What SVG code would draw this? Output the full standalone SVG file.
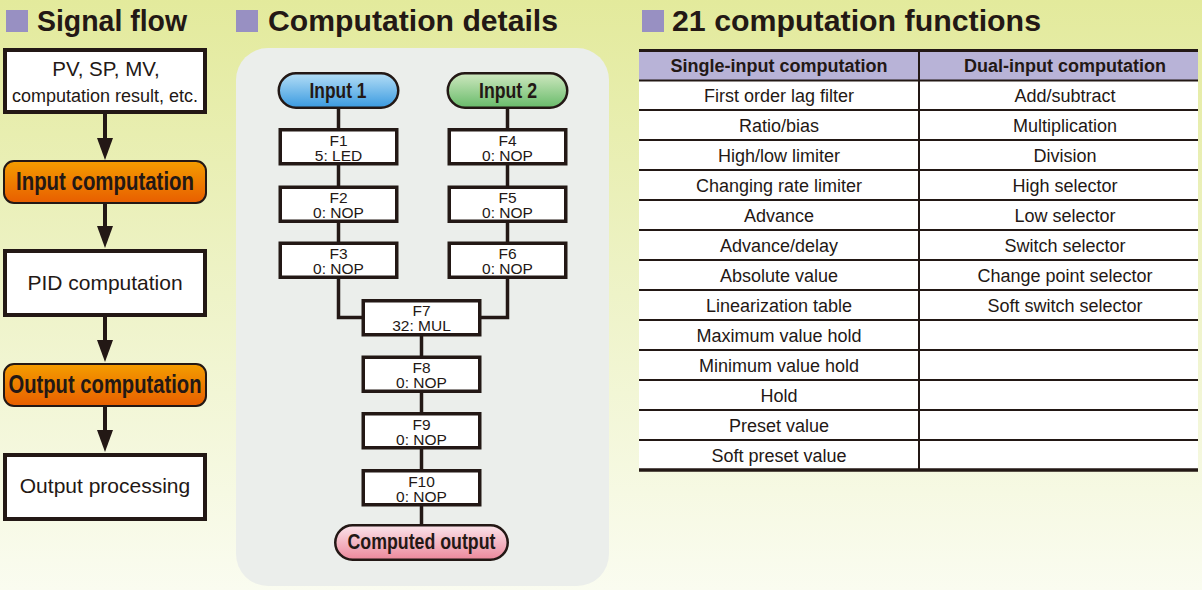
<svg xmlns="http://www.w3.org/2000/svg" width="1202" height="590" viewBox="0 0 1202 590">
<defs>
<linearGradient id="bg" x1="0" y1="0" x2="0" y2="1">
<stop offset="0" stop-color="#e3ea9c"/>
<stop offset="0.5" stop-color="#eef3c8"/>
<stop offset="1" stop-color="#fafcf0"/>
</linearGradient>
<linearGradient id="orange" x1="0" y1="0" x2="0" y2="1">
<stop offset="0" stop-color="#f49d00"/>
<stop offset="1" stop-color="#e85e00"/>
</linearGradient>
<linearGradient id="blue" x1="0" y1="0" x2="0" y2="1">
<stop offset="0" stop-color="#b4def6"/>
<stop offset="1" stop-color="#3a9ae0"/>
</linearGradient>
<linearGradient id="green" x1="0" y1="0" x2="0" y2="1">
<stop offset="0" stop-color="#cfe8c0"/>
<stop offset="1" stop-color="#68bb6a"/>
</linearGradient>
<linearGradient id="pink" x1="0" y1="0" x2="0" y2="1">
<stop offset="0" stop-color="#fbe4eb"/>
<stop offset="1" stop-color="#ec889b"/>
</linearGradient>
<marker id="arrow" markerUnits="userSpaceOnUse" markerWidth="22" markerHeight="16" refX="2" refY="8" orient="auto">
<path d="M0,0 L22,8 L0,16 Z" fill="#231815"/>
</marker>
<style>
.t{font-family:"Liberation Sans",Arial,sans-serif;fill:#231815}
.title{font-family:"Liberation Sans",Arial,sans-serif;font-weight:bold;font-size:29px;fill:#231815}
.sq{fill:#9890c2}
.box{fill:#fff;stroke:#231815;stroke-width:4}
.obox{fill:url(#orange);stroke:#231815;stroke-width:2}
.cond{font-family:"Liberation Sans Narrow","Liberation Sans","DejaVu Sans Condensed",sans-serif;font-weight:bold;fill:#231815}
.fbox{fill:#fff;stroke:#231815;stroke-width:3.5}
.ft{font-family:"Liberation Sans",Arial,sans-serif;font-size:15.5px;fill:#231815;text-anchor:middle}
.pill{stroke:#231815;stroke-width:2.5}
.conn{fill:none;stroke:#231815;stroke-width:3.5}
.arr{fill:none;stroke:#231815;stroke-width:4}
.th{font-family:"Liberation Sans",Arial,sans-serif;font-weight:bold;font-size:18px;fill:#231815;text-anchor:middle}
.td{font-family:"Liberation Sans",Arial,sans-serif;font-size:18px;fill:#231815;text-anchor:middle}
.rl{stroke:#231815;stroke-width:2}
</style>
</defs>

<rect x="0" y="0" width="1202" height="590" fill="url(#bg)"/>

<!-- Titles -->
<g id="title-signal-flow">
<rect class="sq" x="6" y="10" width="22" height="22"/>
<text class="title" x="37" y="31" textLength="150" lengthAdjust="spacingAndGlyphs">Signal flow</text>
</g>
<g id="title-computation-details">
<rect class="sq" x="236" y="10" width="22" height="22"/>
<text class="title" x="268" y="31" textLength="290" lengthAdjust="spacingAndGlyphs">Computation details</text>
</g>
<g id="title-functions">
<rect class="sq" x="642" y="10" width="22" height="22"/>
<text class="title" x="672" y="31" textLength="369" lengthAdjust="spacingAndGlyphs">21 computation functions</text>
</g>

<!-- Signal flow nodes -->
<g id="sf-source">
<rect class="box" x="5" y="50" width="200" height="62"/>
<text class="t" x="106" y="76" font-size="20.5" text-anchor="middle">PV, SP, MV,</text>
<text class="t" x="105" y="102" font-size="18" text-anchor="middle">computation result, etc.</text>
</g>
<g id="sf-input-computation">
<rect class="obox" x="4" y="161" width="202" height="42" rx="10"/>
<text class="cond" x="105" y="190" font-size="25" text-anchor="middle" textLength="178" lengthAdjust="spacingAndGlyphs">Input computation</text>
</g>
<g id="sf-pid">
<rect class="box" x="5" y="251" width="200" height="64"/>
<text class="t" x="105" y="290" font-size="21" text-anchor="middle">PID computation</text>
</g>
<g id="sf-output-computation">
<rect class="obox" x="4" y="364" width="202" height="42" rx="10"/>
<text class="cond" x="105" y="393" font-size="25" text-anchor="middle" textLength="193" lengthAdjust="spacingAndGlyphs">Output computation</text>
</g>
<g id="sf-output-processing">
<rect class="box" x="5" y="455" width="200" height="64"/>
<text class="t" x="105" y="493" font-size="21" text-anchor="middle">Output processing</text>
</g>

<!-- Computation details panel -->
<rect id="panel" x="236" y="48" width="373" height="538" rx="32" fill="#ebeeeb"/>

<!-- Connectors -->
<g id="connectors">
<path class="arr" d="M105,114 V140" marker-end="url(#arrow)"/>
<path class="arr" d="M105,204 V228" marker-end="url(#arrow)"/>
<path class="arr" d="M105,317 V342" marker-end="url(#arrow)"/>
<path class="arr" d="M105,407 V432" marker-end="url(#arrow)"/>

<path class="conn" d="M338.5,108 V129"/>
<path class="conn" d="M338.5,165 V186"/>
<path class="conn" d="M338.5,222 V242"/>
<path class="conn" d="M338.5,278 V317.5 H363"/>
<path class="conn" d="M507.5,108 V129"/>
<path class="conn" d="M507.5,165 V186"/>
<path class="conn" d="M507.5,222 V242"/>
<path class="conn" d="M507.5,278 V317.5 H480"/>
<path class="conn" d="M421.5,336 V356"/>
<path class="conn" d="M421.5,392 V413"/>
<path class="conn" d="M421.5,449 V470"/>
<path class="conn" d="M421.5,506 V525"/>
</g>

<!-- Computation detail nodes -->
<g id="input1">
<rect class="pill" x="278.75" y="73.25" width="119.5" height="34.5" rx="17.25" fill="url(#blue)"/>
<text class="cond" x="338" y="98" font-size="22" text-anchor="middle" textLength="57" lengthAdjust="spacingAndGlyphs">Input 1</text>
</g>
<g id="input2">
<rect class="pill" x="447.75" y="73.25" width="119.5" height="34.5" rx="17.25" fill="url(#green)"/>
<text class="cond" x="508" y="98" font-size="22" text-anchor="middle" textLength="58" lengthAdjust="spacingAndGlyphs">Input 2</text>
</g>
<g id="f1">
<rect class="fbox" x="280.25" y="129.75" width="116.5" height="34"/>
<text class="ft" x="338.5" y="145.5">F1</text>
<text class="ft" x="338.5" y="160.5">5: LED</text>
</g>
<g id="f2">
<rect class="fbox" x="280.25" y="187.25" width="116.5" height="34"/>
<text class="ft" x="338.5" y="203">F2</text>
<text class="ft" x="338.5" y="218">0: NOP</text>
</g>
<g id="f3">
<rect class="fbox" x="280.25" y="243.25" width="116.5" height="34"/>
<text class="ft" x="338.5" y="259">F3</text>
<text class="ft" x="338.5" y="274">0: NOP</text>
</g>
<g id="f4">
<rect class="fbox" x="449.25" y="129.75" width="116.5" height="34"/>
<text class="ft" x="507.5" y="145.5">F4</text>
<text class="ft" x="507.5" y="160.5">0: NOP</text>
</g>
<g id="f5">
<rect class="fbox" x="449.25" y="187.25" width="116.5" height="34"/>
<text class="ft" x="507.5" y="203">F5</text>
<text class="ft" x="507.5" y="218">0: NOP</text>
</g>
<g id="f6">
<rect class="fbox" x="449.25" y="243.25" width="116.5" height="34"/>
<text class="ft" x="507.5" y="259">F6</text>
<text class="ft" x="507.5" y="274">0: NOP</text>
</g>
<g id="f7">
<rect class="fbox" x="363.25" y="300.75" width="116.5" height="34"/>
<text class="ft" x="421.5" y="316">F7</text>
<text class="ft" x="421.5" y="331">32: MUL</text>
</g>
<g id="f8">
<rect class="fbox" x="363.25" y="357.25" width="116.5" height="34"/>
<text class="ft" x="421.5" y="373">F8</text>
<text class="ft" x="421.5" y="388">0: NOP</text>
</g>
<g id="f9">
<rect class="fbox" x="363.25" y="413.75" width="116.5" height="34"/>
<text class="ft" x="421.5" y="429.5">F9</text>
<text class="ft" x="421.5" y="444.5">0: NOP</text>
</g>
<g id="f10">
<rect class="fbox" x="363.25" y="470.75" width="116.5" height="34"/>
<text class="ft" x="421.5" y="486.5">F10</text>
<text class="ft" x="421.5" y="501.5">0: NOP</text>
</g>
<g id="computed-output">
<rect class="pill" x="335.25" y="525.25" width="172.5" height="34.5" rx="17.25" fill="url(#pink)"/>
<text class="cond" x="421.5" y="549" font-size="22" text-anchor="middle" textLength="148" lengthAdjust="spacingAndGlyphs">Computed output</text>
</g>

<!-- Table -->
<g id="table">
<rect x="639" y="50" width="559" height="420" fill="#fff"/>
<rect x="639" y="50" width="559" height="30" fill="#b8b3d7"/>
<line x1="639" y1="50.5" x2="1198" y2="50.5" stroke="#231815" stroke-width="3"/>
<line class="rl" x1="639" y1="80.5" x2="1198" y2="80.5"/>
<line class="rl" x1="639" y1="110" x2="1198" y2="110"/>
<line class="rl" x1="639" y1="140" x2="1198" y2="140"/>
<line class="rl" x1="639" y1="170" x2="1198" y2="170"/>
<line class="rl" x1="639" y1="200" x2="1198" y2="200"/>
<line class="rl" x1="639" y1="230" x2="1198" y2="230"/>
<line class="rl" x1="639" y1="260" x2="1198" y2="260"/>
<line class="rl" x1="639" y1="290" x2="1198" y2="290"/>
<line class="rl" x1="639" y1="320" x2="1198" y2="320"/>
<line class="rl" x1="639" y1="350" x2="1198" y2="350"/>
<line class="rl" x1="639" y1="380" x2="1198" y2="380"/>
<line class="rl" x1="639" y1="410" x2="1198" y2="410"/>
<line class="rl" x1="639" y1="440" x2="1198" y2="440"/>
<line x1="639" y1="470" x2="1198" y2="470" stroke="#231815" stroke-width="3.5"/>
<line class="rl" x1="919" y1="50" x2="919" y2="470"/>
<text class="th" x="779" y="72">Single-input computation</text>
<text class="th" x="1065" y="72">Dual-input computation</text>
<text class="td" x="779" y="102">First order lag filter</text>
<text class="td" x="779" y="132">Ratio/bias</text>
<text class="td" x="779" y="162">High/low limiter</text>
<text class="td" x="779" y="192">Changing rate limiter</text>
<text class="td" x="779" y="222">Advance</text>
<text class="td" x="779" y="252">Advance/delay</text>
<text class="td" x="779" y="282">Absolute value</text>
<text class="td" x="779" y="312">Linearization table</text>
<text class="td" x="779" y="342">Maximum value hold</text>
<text class="td" x="779" y="372">Minimum value hold</text>
<text class="td" x="779" y="402">Hold</text>
<text class="td" x="779" y="432">Preset value</text>
<text class="td" x="779" y="462">Soft preset value</text>
<text class="td" x="1065" y="102">Add/subtract</text>
<text class="td" x="1065" y="132">Multiplication</text>
<text class="td" x="1065" y="162">Division</text>
<text class="td" x="1065" y="192">High selector</text>
<text class="td" x="1065" y="222">Low selector</text>
<text class="td" x="1065" y="252">Switch selector</text>
<text class="td" x="1065" y="282">Change point selector</text>
<text class="td" x="1065" y="312">Soft switch selector</text>
</g>
</svg>
